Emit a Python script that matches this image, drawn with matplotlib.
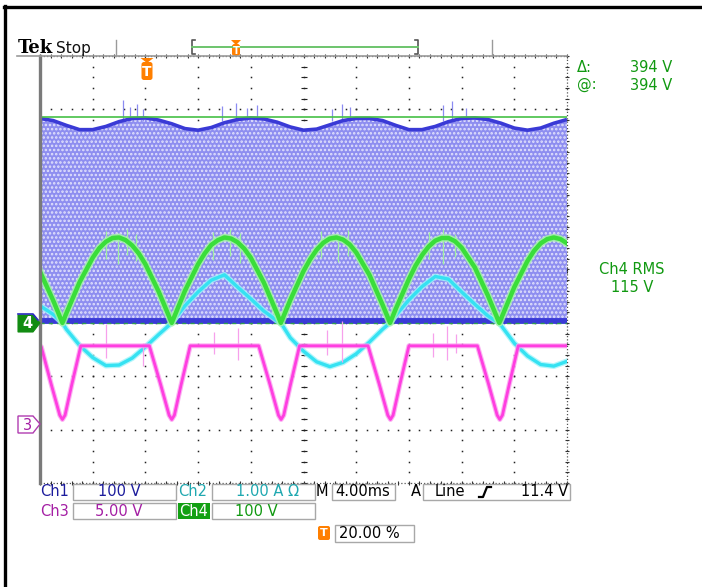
import numpy as np
import matplotlib.pyplot as plt
from matplotlib.patches import Rectangle, Polygon, FancyBboxPatch

W, H = 702, 587

# horizontal: 4 ms/div, 10 div -> 0..40 ms ; vertical: 8 div
# channel settings (scale per div, ground offset in div)
ch1_scale, ch1_off = 100.0, -1.0
ch2_scale, ch2_off = 1.0, -1.0
ch3_scale, ch3_off = 5.0, -2.89
ch4_scale, ch4_off = 100.0, -1.0

# Ch1 (blue) - upper envelope of the switching band, volts
t_blue = list(range(0, 41))
v_blue_top = [383, 379, 370, 362, 362, 368, 377, 383, 384, 380, 373, 364, 361, 366,
              375, 381, 384, 382, 376, 367, 361, 363, 371, 379, 383, 383, 379, 370,
              362, 362, 368, 377, 383, 384, 381, 374, 365, 361, 365, 374, 381]
blue_spike_t = [6.3, 6.8, 7.4, 7.8, 13.8, 14.9, 15.7, 16.5, 22.2, 22.9, 23.5, 30.6, 31.3, 32.3]
blue_spike_v = [418, 404, 410, 400, 406, 412, 402, 408, 400, 410, 404, 408, 415, 402]
cursor_v = 385

# Ch2 (cyan) - current, amps
t_cyan = [0, 1, 1.7, 2, 3, 4, 5, 6, 7, 8, 9, 10, 11, 12, 13, 14, 15, 16, 17, 18, 18.28,
          19, 20, 21, 22, 23, 24, 25, 26, 26.57, 27, 28, 29, 30, 31, 32, 33, 34, 34.86,
          35, 36, 37, 38, 39, 40]
i_cyan = [0.32, 0.16, 0, -0.12, -0.42, -0.65, -0.80, -0.79, -0.66, -0.45, -0.22,
          0, 0.32, 0.58, 0.80, 0.90, 0.67, 0.45, 0.22, 0.04, 0,
          -0.28, -0.53, -0.73, -0.82, -0.74, -0.58, -0.36, -0.12, 0,
          0.14, 0.43, 0.68, 0.87, 0.82, 0.58, 0.35, 0.13, 0,
          -0.05, -0.38, -0.62, -0.78, -0.81, -0.72]

# Ch3 (magenta), volts
t_pink = [0, 0.1, 0.85, 1.5, 1.7, 1.9, 2.4, 3.1,
          8.3, 9.15, 9.8, 10.0, 10.2, 10.7, 11.4,
          16.6, 17.45, 18.1, 18.3, 18.5, 19.0, 19.7,
          24.9, 25.75, 26.4, 26.6, 26.8, 27.3, 28.0,
          33.2, 34.05, 34.7, 34.9, 35.1, 35.6, 36.3, 40]
v_pink = [7.3, 7.2, 3.7, 0.8, 0.4, 0.8, 3.6, 7.3,
          7.3, 3.7, 0.8, 0.4, 0.8, 3.6, 7.3,
          7.3, 3.7, 0.8, 0.4, 0.8, 3.6, 7.3,
          7.3, 3.7, 0.8, 0.4, 0.8, 3.6, 7.3,
          7.3, 3.7, 0.8, 0.4, 0.8, 3.6, 7.3, 7.3]
pink_spike_t = [5.0, 7.8, 13.2, 15.0, 21.8, 22.9, 29.8, 30.9, 31.6]
pink_spike_lo = [6.2, 5.4, 6.5, 6.0, 6.4, 5.8, 6.3, 6.0, 6.6]
pink_spike_hi = [9.3, 7.6, 8.6, 9.0, 8.8, 9.6, 8.5, 9.2, 8.4]

# Ch4 (green) - rectified line voltage, volts
t_green = [0, 1, 1.7, 2, 3, 4, 4.5, 5, 5.5, 6, 6.5, 7, 7.5, 8, 9,
           10, 11, 12, 12.5, 13, 13.5, 14, 14.5, 15, 15.5, 16, 17, 18, 18.28,
           19, 20, 20.5, 21, 21.5, 22, 22.5, 23, 23.5, 24, 25, 26, 26.57,
           27, 28, 28.5, 29, 29.5, 30, 30.5, 31, 31.5, 32, 33, 34, 34.86,
           35, 36, 37, 37.5, 38, 38.5, 39, 39.5, 40]
v_green = [96, 42, 0, 18, 76, 122, 140, 152, 159, 160, 155, 145, 130, 110, 59,
           0, 60, 110, 130, 146, 155, 160, 158, 151, 139, 122, 75, 17, 0,
           43, 97, 119, 137, 150, 158, 160, 156, 147, 132, 90, 34, 0,
           26, 82, 107, 127, 143, 154, 159, 159, 153, 141, 104, 51, 0,
           8, 67, 116, 135, 149, 157, 160, 157, 149]
green_spike_t = [5.0, 5.9, 6.6, 7.3, 13.1, 14.4, 15.2, 21.3, 22.6, 23.4, 29.5, 30.6, 31.5]
green_spike_lo = [120, 110, 128, 115, 118, 125, 112, 122, 114, 126, 120, 110, 124]
green_spike_hi = [172, 168, 175, 166, 170, 176, 168, 172, 167, 174, 170, 175, 166]


def div(v, scale, off):
    return off + np.asarray(v, dtype=float) / scale


navy = '#1c1c9c'
teal = '#1fa8b0'
purple = '#a41fa4'
gtxt = '#119911'
orange = '#ff7f00'

fig = plt.figure(figsize=(W / 100, H / 100), dpi=100)
ax = fig.add_axes([40 / W, 1 - 483 / H, 527 / W, 427 / H])
ax.set_xlim(0, 40)
ax.set_ylim(-4, 4)
ax.axis('off')

# graticule
xs = np.arange(0, 40.01, 0.8)
ys = np.arange(-4, 4.01, 0.2)
for gx in range(4, 40, 4):
    ax.plot(np.full_like(ys, gx), ys, 's', ms=1.1, mew=0, color='#222222', zorder=1)
for gy in range(-3, 4):
    ax.plot(xs, np.full_like(xs, gy), 's', ms=1.1, mew=0, color='#222222', zorder=1)
ax.plot(np.full_like(ys, 20), ys, '_', ms=4, mew=0.8, color='#222222', zorder=1)
ax.plot(xs, np.zeros_like(xs), '|', ms=4, mew=0.8, color='#222222', zorder=1)
for yy in (4, -4):
    ax.plot([0, 40], [yy, yy], color='#555555', lw=0.9, ls=(0, (1, 1.6)), zorder=1, clip_on=False)
    ax.plot(xs, np.full_like(xs, yy), '|', ms=3.5, mew=0.8, color='#333333', zorder=1, clip_on=False)
ax.plot([40, 40], [-4, 4], color='#555555', lw=0.9, ls=(0, (1, 1.6)), zorder=1, clip_on=False)
ax.plot(np.full_like(ys, 40), ys, '_', ms=3.5, mew=0.8, color='#333333', zorder=1, clip_on=False)
ax.plot([0, 0], [-4, 4], color='#7a7a7a', lw=2.4, zorder=8, clip_on=False)

# Ch1 band
plt.rcParams['hatch.linewidth'] = 1.2
top = div(v_blue_top, ch1_scale, ch1_off)
ax.fill_between(t_blue, ch1_off, top, facecolor='#8e8ef0', edgecolor='#e2e2fc',
                hatch='....', linewidth=0, zorder=2)
ax.vlines(blue_spike_t, div(378, ch1_scale, ch1_off), div(blue_spike_v, ch1_scale, ch1_off),
          color='#8c8cf2', lw=0.9, zorder=2)
ax.plot(t_blue, top, color='#3a3ad6', lw=2.6, zorder=3, solid_capstyle='butt')
ax.plot([0, 40], [ch1_off + 0.03, ch1_off + 0.03], color='#3a3ad6', lw=4.2, zorder=3,
        solid_capstyle='butt')
ax.plot([0, 40], [ch4_off, ch4_off], color='#2f9f4f', lw=1.0, ls=(0, (3, 3)), zorder=3)

# cursor line
ax.plot([0, 40], [div(cursor_v, ch4_scale, ch4_off)] * 2, color='#46c046', lw=1.2, zorder=3)

# Ch2
yc = div(i_cyan, ch2_scale, ch2_off)
ax.plot(t_cyan, yc, color='#9ff4fb', lw=4.2, zorder=4, alpha=0.8)
ax.plot(t_cyan, yc, color='#35e2f2', lw=2.4, zorder=4)

# Ch3
yp = div(v_pink, ch3_scale, ch3_off)
ax.vlines(pink_spike_t, div(pink_spike_lo, ch3_scale, ch3_off), div(pink_spike_hi, ch3_scale, ch3_off),
          color='#f7a0ec', lw=0.9, zorder=5)
ax.plot(t_pink, yp, color='#fb9ff0', lw=3.6, zorder=5, alpha=0.8)
ax.plot(t_pink, yp, color='#ff3ee0', lw=2.0, zorder=5)

# Ch4
yg = div(v_green, ch4_scale, ch4_off)
ax.vlines(green_spike_t, div(green_spike_lo, ch4_scale, ch4_off), div(green_spike_hi, ch4_scale, ch4_off),
          color='#a0f0a0', lw=0.9, zorder=6)
ax.plot(t_green, yg, color='#a4f5a4', lw=5.4, zorder=6, alpha=0.85)
ax.plot(t_green, yg, color='#3ade3a', lw=3.2, zorder=6)

# ---- screen chrome, pixel coordinates ----
ov = fig.add_axes([0, 0, 1, 1], zorder=10)
ov.set_xlim(0, W)
ov.set_ylim(H, 0)
ov.axis('off')

ov.plot([5, 5], [6, H], color='black', lw=2.4)
ov.plot([4, W], [7, 7], color='black', lw=2.4)

ov.plot([17, 567], [56, 56], color='#9a9a9a', lw=1.2)
for sx in (116, 492):
    ov.plot([sx, sx], [40, 56], color='#9a9a9a', lw=1.0)
ov.text(18, 53, 'Tek', fontsize=13, fontweight='bold', family='DejaVu Serif', ha='left', va='baseline')
ov.text(56, 53, 'Stop', fontsize=11, ha='left', va='baseline', color='#111111')

# record bracket
ov.plot([195, 192, 192, 195], [40, 40, 54, 54], color='#555555', lw=1.2)
ov.plot([415, 418, 418, 415], [40, 40, 54, 54], color='#555555', lw=1.2)
ov.plot([192, 418], [47, 47], color='#6cc46c', lw=1.4)


def trig_marker(cx, ytop, w, h):
    ov.add_patch(Polygon([[cx - w / 2, ytop], [cx + w / 2, ytop], [cx, ytop + 5]],
                         closed=True, color=orange, lw=0))
    ov.add_patch(FancyBboxPatch((cx - w / 2 + 1, ytop + 4), w - 2, h - 4,
                                boxstyle='round,pad=0,rounding_size=2.5', color=orange, lw=0))
    ov.text(cx, ytop + 4 + (h - 4) / 2 + 0.5, 'T', color='white', fontsize=h * 0.45, fontweight='bold',
            ha='center', va='center')


trig_marker(236, 40, 10, 16)
trig_marker(147, 58, 13, 22)

# channel markers
ov.add_patch(Polygon([[18, 315], [33, 315], [40, 323], [33, 332], [18, 332]], closed=True,
                     facecolor='#128c12', edgecolor='#128c12', lw=0.8))
ov.plot([18, 33, 38], [314, 314, 320], color='#2a2ac0', lw=1.2)
ov.text(27, 324, '4', color='white', fontsize=10.5, fontweight='bold', ha='center', va='center')
ov.add_patch(Polygon([[18, 416], [33, 416], [40, 424], [33, 433], [18, 433]], closed=True,
                     facecolor='white', edgecolor='#b03cb0', lw=1.0))
ov.text(27, 425, '3', color=purple, fontsize=10.5, ha='center', va='center')

# right readouts
ov.text(577, 68, 'Δ:', color=gtxt, fontsize=10.5, ha='left', va='center')
ov.text(672, 68, '394 V', color=gtxt, fontsize=10.5, ha='right', va='center')
ov.text(577, 85, '@:', color=gtxt, fontsize=10.5, ha='left', va='center')
ov.text(672, 85, '394 V', color=gtxt, fontsize=10.5, ha='right', va='center')
ov.text(632, 270, 'Ch4 RMS', color=gtxt, fontsize=10.5, ha='center', va='center')
ov.text(632, 287, '115 V', color=gtxt, fontsize=10.5, ha='center', va='center')


def box(x0, x1, y0, y1):
    ov.add_patch(Rectangle((x0, y0), x1 - x0, y1 - y0, facecolor='white', edgecolor='#a8a8a8', lw=1.0))


fs = 10.5
r1, r2, r3 = 492, 511, 533
box(73, 176, 484, 500)
box(212, 315, 484, 500)
box(332, 395, 484, 500)
box(423, 570, 484, 500)
box(73, 176, 503, 519)
box(212, 315, 503, 519)
box(335, 414, 525, 542)

ov.text(40, r1, 'Ch1', color=navy, fontsize=fs, ha='left', va='center')
ov.text(119, r1, '100 V', color=navy, fontsize=fs, ha='center', va='center')
ov.text(178, r1, 'Ch2', color=teal, fontsize=fs, ha='left', va='center')
ov.text(267, r1, '1.00 A Ω', color=teal, fontsize=fs, ha='center', va='center')
ov.text(316, r1, 'M', color='black', fontsize=fs, ha='left', va='center')
ov.text(363, r1, '4.00ms', color='black', fontsize=fs, ha='center', va='center')
ov.text(411, r1, 'A', color='black', fontsize=fs, ha='left', va='center')
ov.text(435, r1, 'Line', color='black', fontsize=fs, ha='left', va='center')
ov.plot([479, 483, 487, 491], [497, 497, 487, 487], color='black', lw=1.6)
ov.text(568, r1, '11.4 V', color='black', fontsize=fs, ha='right', va='center')

ov.text(40, r2, 'Ch3', color=purple, fontsize=fs, ha='left', va='center')
ov.text(119, r2, '5.00 V', color=purple, fontsize=fs, ha='center', va='center')
ov.add_patch(Rectangle((178, 503), 32, 16, facecolor='#13a013', edgecolor='#13a013', lw=0))
ov.text(194, r2, 'Ch4', color='white', fontsize=fs, ha='center', va='center')
ov.text(256, r2, '100 V', color=gtxt, fontsize=fs, ha='center', va='center')

ov.add_patch(FancyBboxPatch((318, 526), 12, 14, boxstyle='round,pad=0,rounding_size=2',
                            color=orange, lw=0))
ov.text(324, 533.5, 'T', color='white', fontsize=8, fontweight='bold', ha='center', va='center')
ov.text(339, r3, '20.00 %', color='black', fontsize=fs, ha='left', va='center')

fig.savefig('out.png', dpi=100, facecolor='white')
